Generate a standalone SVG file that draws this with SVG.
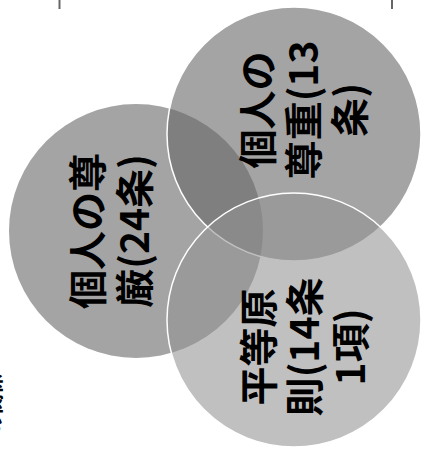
<svg xmlns="http://www.w3.org/2000/svg" width="422" height="450" viewBox="0 0 422 450">
<style>
.lbl{font-family:"Noto Sans CJK JP","Noto Sans CJK SC",sans-serif;font-weight:bold;font-size:39px;fill:#000;text-anchor:middle;dominant-baseline:central}
.frag{font-family:"Noto Sans CJK JP",sans-serif;font-weight:bold;font-size:20px;fill:#000;text-anchor:middle;dominant-baseline:central}
.edge{stroke:#666;stroke-width:2}
</style>
<rect width="422" height="450" fill="#fff"/>
<g id="connectors">
<line class="edge" x1="59.5" y1="0" x2="59.5" y2="9"/>
<line class="edge" x1="392" y1="0" x2="392" y2="9"/>
</g>
<g id="node-dignity">
<circle cx="136" cy="231" r="127" fill="#686868" fill-opacity="0.6"/>
</g>
<g id="node-respect">
<circle cx="294" cy="134" r="127" fill="#686868" fill-opacity="0.6" stroke="#fff" stroke-width="1.5"/>
</g>
<g id="node-equality">
<circle cx="294" cy="320" r="127" fill="#929292" fill-opacity="0.58" stroke="#fff" stroke-width="1.5"/>
</g>
<g id="labels">
<g transform="translate(108,231) rotate(-90)">
<text class="lbl" x="0" y="-23">個人の尊</text>
<text class="lbl" x="0" y="24">厳(24条)</text>
</g>
<g transform="translate(301,110) rotate(-90)">
<text class="lbl" x="0" y="-46">個人の</text>
<text class="lbl" x="0" y="0">尊重(13</text>
<text class="lbl" x="0" y="46">条)</text>
</g>
<g transform="translate(302,347) rotate(-90)">
<text class="lbl" x="0" y="-46">平等原</text>
<text class="lbl" x="0" y="0">則(14条</text>
<text class="lbl" x="0" y="46">1項)</text>
</g>
<g transform="translate(-8,404) rotate(-90)">
<text class="frag" x="0" y="0">の関係</text>
</g>
</g>
</svg>
